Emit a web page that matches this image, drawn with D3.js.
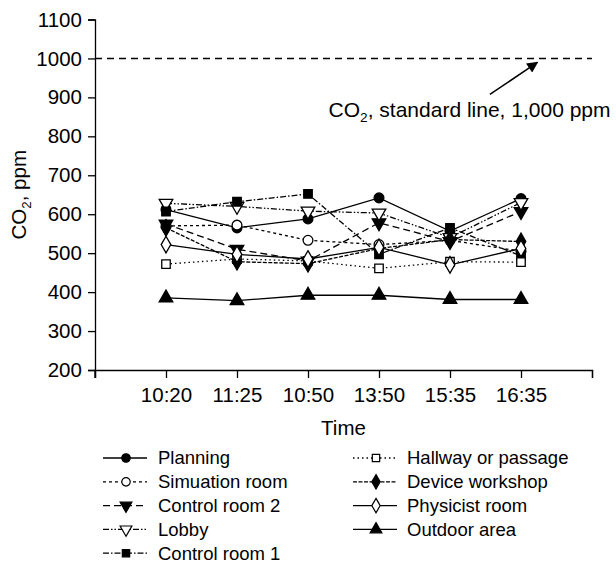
<!DOCTYPE html>
<html>
<head>
<meta charset="utf-8">
<script src="https://cdn.jsdelivr.net/npm/d3@7"></script>
<style>
  body { margin: 0; background: #fff; }
  text { font-family: "Liberation Sans", Arial, sans-serif; fill: #000; }
</style>
</head>
<body>
<svg id="chart" width="616" height="568"></svg>
<script>
// time labels (positions 1..6 on the axis)
const times = ["10:20", "11:25", "10:50", "13:50", "15:35", "16:35"];
const yTicks = [200, 300, 400, 500, 600, 700, 800, 900, 1000, 1100];

const planning = [612, 565, 588, 642, 557, 640];
const simulation = [570, 572, 533, 522, 533, 505];
const control2 = [575, 510, 480, 578, 530, 607];
const lobby = [628, 620, 608, 603, 540, 630];
const control1 = [607, 632, 652, 497, 565, 493];
const hallway = [472, 485, 480, 461, 478, 477];
const workshop = [565, 478, 473, 512, 535, 530];
const physicist = [522, 497, 485, 515, 470, 512];
const outdoor = [385, 378, 392, 392, 381, 381];

const series = [
  { name: "Planning", values: planning, dash: null, sym: d3.symbolCircle, fill: "#000" },
  { name: "Simuation room", values: simulation, dash: "3,3", sym: d3.symbolCircle, fill: "#fff" },
  { name: "Control room 2", values: control2, dash: "7,4", sym: "down", fill: "#000" },
  { name: "Lobby", values: lobby, dash: "6,2,1.5,2,1.5,2", sym: "down", fill: "#fff" },
  { name: "Control room 1", values: control1, dash: "6,2,1.5,2", sym: d3.symbolSquare, fill: "#000" },
  { name: "Hallway or passage", values: hallway, dash: "1.5,3", sym: d3.symbolSquare, fill: "#fff" },
  { name: "Device workshop", values: workshop, dash: "4,1.5", sym: d3.symbolDiamond, fill: "#000" },
  { name: "Physicist room", values: physicist, dash: null, sym: d3.symbolDiamond, fill: "#fff" },
  { name: "Outdoor area", values: outdoor, dash: null, sym: d3.symbolTriangle, fill: "#000" }
];

const svg = d3.select("#chart");
const margin = { left: 95, right: 24, top: 19.5, bottom: 198 };
const width = 616 - margin.left - margin.right;
const height = 568 - margin.top - margin.bottom;

const g = svg.append("g").attr("transform", `translate(${margin.left},${margin.top})`);

const x = d3.scaleLinear().domain([0, 7]).range([0, width]);
const y = d3.scaleLinear().domain([200, 1100]).range([height, 0]);

const fontSize = 20.5;
const legendFont = 18.5;

// axes
const xAxis = g.append("g")
  .attr("transform", `translate(0,${height})`)
  .call(d3.axisBottom(x).tickValues(d3.range(0, 8)).tickSize(8)
    .tickFormat(d => (d >= 1 && d <= 6) ? times[d - 1] : ""));
const yAxis = g.append("g")
  .call(d3.axisLeft(y).tickValues(yTicks).tickSize(7).tickFormat(d3.format("d")));

[xAxis, yAxis].forEach(a => {
  a.select(".domain").attr("stroke", "#000").attr("stroke-width", 1.3);
  a.selectAll(".tick line").attr("stroke", "#000").attr("stroke-width", 1.3);
  a.selectAll("text").attr("font-size", fontSize).attr("font-family", "Liberation Sans, Arial, sans-serif").attr("fill", "#000");
});
xAxis.selectAll(".tick text").attr("dy", "21px");
yAxis.selectAll(".tick text").attr("dx", "-0.15em");
// y axis runs a little below the x axis
yAxis.append("line").attr("x1", 0).attr("x2", 0).attr("y1", height).attr("y2", height + 8)
  .attr("stroke", "#000").attr("stroke-width", 1.3);

// axis titles
g.append("text")
  .attr("x", width / 2).attr("y", height + 65)
  .attr("text-anchor", "middle").attr("font-size", fontSize).text("Time");

const yl = svg.append("text")
  .attr("transform", `translate(26,${margin.top + y(650)}) rotate(-90)`)
  .attr("text-anchor", "middle").attr("font-size", fontSize);
yl.append("tspan").text("CO");
yl.append("tspan").attr("font-size", fontSize * 0.65).attr("dy", 5).text("2");
yl.append("tspan").attr("dy", -5).text(", ppm");

// standard line
g.append("line")
  .attr("x1", 0).attr("x2", width).attr("y1", y(1000)).attr("y2", y(1000))
  .attr("stroke", "#000").attr("stroke-width", 1.6).attr("stroke-dasharray", "7,5");

svg.append("defs").append("marker")
  .attr("id", "arrow").attr("viewBox", "0 0 10 10").attr("refX", 9).attr("refY", 5)
  .attr("markerWidth", 12).attr("markerHeight", 11).attr("orient", "auto")
  .attr("markerUnits", "userSpaceOnUse")
  .append("path").attr("d", "M0,0 L10,5 L0,10 z").attr("fill", "#000");

g.append("line")
  .attr("x1", x(5.562)).attr("y1", y(1000) + 36)
  .attr("x2", x(6.23)).attr("y2", y(1000) + 4)
  .attr("stroke", "#000").attr("stroke-width", 1.5).attr("marker-end", "url(#arrow)");

const ann = g.append("text")
  .attr("x", x(3.29)).attr("y", y(900) + 20)
  .attr("font-size", 21);
ann.append("tspan").text("CO");
ann.append("tspan").attr("font-size", 21 * 0.65).attr("dy", 5).text("2");
ann.append("tspan").attr("dy", -5).text(", standard line, 1,000 ppm");

// symbols
function symbolPath(s, size) {
  if (s === "down") {
    return d3.symbol().type(d3.symbolTriangle).size(size)();
  }
  return d3.symbol().type(s).size(size)();
}
function symSize(s) {
  if (s === d3.symbolSquare) return 72;
  if (s === d3.symbolDiamond) return 80;
  if (s === d3.symbolCircle) return 75;
  return 80;
}

const line = d3.line().x((d, i) => x(i + 1)).y(d => y(d));

series.forEach(s => {
  g.append("path")
    .attr("d", line(s.values))
    .attr("fill", "none").attr("stroke", "#000").attr("stroke-width", 1.3)
    .attr("stroke-dasharray", s.dash);
});
series.forEach(s => {
  g.selectAll(null).data(s.values).enter().append("path")
    .attr("d", symbolPath(s.sym, symSize(s.sym)))
    .attr("transform", (d, i) => `translate(${x(i + 1)},${y(d)})${s.sym === "down" ? " rotate(180)" : ""}`)
    .attr("fill", s.fill).attr("stroke", "#000").attr("stroke-width", 1.3);
});

// legend
const legend = svg.append("g");
const rowH = 23.8;
series.forEach((s, i) => {
  const col = i < 5 ? 0 : 1;
  const row = i < 5 ? i : i - 5;
  const lx = col === 0 ? 103 : 353;
  const ly = 458 + row * rowH;
  const item = legend.append("g").attr("transform", `translate(${lx},${ly})`);
  item.append("line").attr("x1", 0).attr("x2", 44).attr("y1", 0).attr("y2", 0)
    .attr("stroke", "#000").attr("stroke-width", 1.3).attr("stroke-dasharray", s.dash);
  item.append("path")
    .attr("d", symbolPath(s.sym, symSize(s.sym) * 0.75))
    .attr("transform", `translate(23,0)${s.sym === "down" ? " rotate(180)" : ""}`)
    .attr("fill", s.fill).attr("stroke", "#000").attr("stroke-width", 1.2);
  item.append("text").attr("x", col === 0 ? 55 : 54).attr("y", 0).attr("dy", "0.35em")
    .attr("font-size", legendFont).text(s.name);
});
</script>
</body>
</html>
